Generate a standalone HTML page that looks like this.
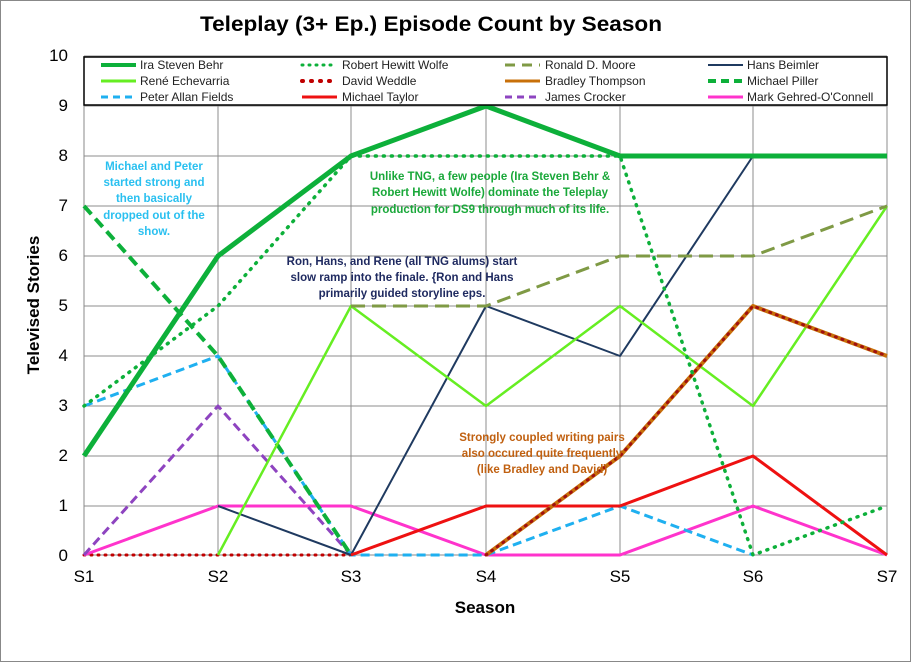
<!DOCTYPE html>
<html><head><meta charset="utf-8"><style>
html,body{margin:0;padding:0;background:#fff}
svg{display:block;font-family:"Liberation Sans",sans-serif}
</style></head><body>
<svg width="911" height="662" viewBox="0 0 911 662" xmlns="http://www.w3.org/2000/svg">
<rect x="0.5" y="0.5" width="910" height="661" fill="#fff" stroke="#888"/>
<text x="431" y="31" font-size="21" font-weight="bold" text-anchor="middle" textLength="462" lengthAdjust="spacingAndGlyphs">Teleplay (3+ Ep.) Episode Count by Season</text>
<g stroke="#8c8c8c" stroke-width="1">
<line x1="84" y1="56" x2="887" y2="56"/><line x1="84" y1="106" x2="887" y2="106"/><line x1="84" y1="156" x2="887" y2="156"/><line x1="84" y1="206" x2="887" y2="206"/><line x1="84" y1="256" x2="887" y2="256"/><line x1="84" y1="306" x2="887" y2="306"/><line x1="84" y1="356" x2="887" y2="356"/><line x1="84" y1="406" x2="887" y2="406"/><line x1="84" y1="456" x2="887" y2="456"/><line x1="84" y1="506" x2="887" y2="506"/>
<line x1="218" y1="56" x2="218" y2="555"/><line x1="351" y1="56" x2="351" y2="555"/><line x1="486" y1="56" x2="486" y2="555"/><line x1="620" y1="56" x2="620" y2="555"/><line x1="753" y1="56" x2="753" y2="555"/><line x1="887" y1="56" x2="887" y2="555"/>
</g>
<line x1="84" y1="56" x2="84" y2="555" stroke="#888"/>
<line x1="84" y1="555" x2="887" y2="555" stroke="#888"/>
<g font-size="17" text-anchor="end">
<text x="68" y="561">0</text><text x="68" y="511">1</text><text x="68" y="461">2</text><text x="68" y="411">3</text><text x="68" y="361">4</text><text x="68" y="311">5</text><text x="68" y="261">6</text><text x="68" y="211">7</text><text x="68" y="161">8</text><text x="68" y="111">9</text><text x="68" y="61">10</text>
</g>
<g font-size="17" text-anchor="middle">
<text x="84" y="582">S1</text><text x="218" y="582">S2</text><text x="351" y="582">S3</text><text x="486" y="582">S4</text><text x="620" y="582">S5</text><text x="753" y="582">S6</text><text x="887" y="582">S7</text>
</g>
<text x="485" y="613" font-size="17" font-weight="bold" text-anchor="middle">Season</text>
<text transform="translate(39,305) rotate(-90)" font-size="17" font-weight="bold" text-anchor="middle">Televised Stories</text>
<g fill="none" stroke-linejoin="round">
<polyline points="84,555 218,555 351,555" stroke="#c00000" stroke-width="3" stroke-dasharray="1,6" stroke-linecap="round"/>
<polyline points="84,555 218,506 351,506 486,555 620,555 753,506 887,555" stroke="#ff33cc" stroke-width="3"/>
<polyline points="84,555 218,406 351,555" stroke="#8e44c0" stroke-width="3" stroke-dasharray="9,5"/>
<polyline points="84,406 218,356 351,555 486,555 620,506 753,555" stroke="#1fb0f0" stroke-width="3" stroke-dasharray="9,5"/>
<polyline points="84,206 218,356 351,555" stroke="#0db03a" stroke-width="4" stroke-dasharray="11,6"/>
<polyline points="218,506 351,555 486,306 620,356 753,156 887,156" stroke="#1f3a60" stroke-width="2"/>
<polyline points="218,555 351,306 486,406 620,306 753,406 887,206" stroke="#66ee22" stroke-width="2.5"/>
<polyline points="351,306 486,306 620,256 753,256 887,206" stroke="#7f9a45" stroke-width="3" stroke-dasharray="14,7"/>
<polyline points="351,555 486,506 620,506 753,456 887,555" stroke="#ee1111" stroke-width="3"/>
<polyline points="486,555 620,456 753,306 887,356" stroke="#c8700a" stroke-width="4"/>
<polyline points="486,555 620,456 753,306 887,356" stroke="#a01010" stroke-width="3" stroke-dasharray="1,6" stroke-linecap="round"/>
<polyline points="84,406 218,306 351,156 486,156 620,156 753,555 887,506" stroke="#0db03a" stroke-width="3.5" stroke-dasharray="1,7" stroke-linecap="round"/>
<polyline points="84,456 218,256 351,156 486,106 620,156 753,156 887,156" stroke="#0db03a" stroke-width="5"/>
</g>
<rect x="84" y="57" width="803" height="48" fill="#fff" stroke="#000" stroke-width="1.5"/>
<g font-size="12" fill="#222">
<line x1="101" y1="65" x2="136" y2="65" stroke="#0db03a" stroke-width="4"/><text x="140" y="69">Ira Steven Behr</text>
<line x1="302" y1="65" x2="337" y2="65" stroke="#0db03a" stroke-width="3" stroke-dasharray="1,6" stroke-linecap="round"/><text x="342" y="69">Robert Hewitt Wolfe</text>
<line x1="505" y1="65" x2="540" y2="65" stroke="#7f9a45" stroke-width="3" stroke-dasharray="10,7"/><text x="545" y="69">Ronald D. Moore</text>
<line x1="708" y1="65" x2="743" y2="65" stroke="#1f3a60" stroke-width="2"/><text x="747" y="69">Hans Beimler</text>
<line x1="101" y1="81" x2="136" y2="81" stroke="#66ee22" stroke-width="3"/><text x="140" y="85">René Echevarria</text>
<line x1="302" y1="81" x2="337" y2="81" stroke="#c00000" stroke-width="4" stroke-dasharray="1,8" stroke-linecap="round"/><text x="342" y="85">David Weddle</text>
<line x1="505" y1="81" x2="540" y2="81" stroke="#c8700a" stroke-width="3"/><text x="545" y="85">Bradley Thompson</text>
<line x1="708" y1="81" x2="743" y2="81" stroke="#0db03a" stroke-width="4" stroke-dasharray="8,5"/><text x="747" y="85">Michael Piller</text>
<line x1="101" y1="97" x2="136" y2="97" stroke="#1fb0f0" stroke-width="3" stroke-dasharray="7,5"/><text x="140" y="101">Peter Allan Fields</text>
<line x1="302" y1="97" x2="337" y2="97" stroke="#ee1111" stroke-width="3"/><text x="342" y="101">Michael Taylor</text>
<line x1="505" y1="97" x2="540" y2="97" stroke="#8e44c0" stroke-width="3" stroke-dasharray="7,5"/><text x="545" y="101">James Crocker</text>
<line x1="708" y1="97" x2="743" y2="97" stroke="#ff33cc" stroke-width="3"/><text x="747" y="101">Mark Gehred-O'Connell</text>
</g>
<g font-size="11.5" font-weight="bold" text-anchor="middle">
<g fill="#2ac0f0"><text x="154" y="170">Michael and Peter</text><text x="154" y="186">started strong and</text><text x="154" y="202">then basically</text><text x="154" y="219">dropped out of the</text><text x="154" y="235">show.</text></g>
<g fill="#1aa83a"><text x="490" y="180">Unlike TNG, a few people (Ira Steven Behr &amp;</text><text x="490" y="196">Robert Hewitt Wolfe) dominate the Teleplay</text><text x="490" y="213">production for DS9 through much of its life.</text></g>
<g fill="#1f2a60"><text x="402" y="265">Ron, Hans, and Rene (all TNG alums) start</text><text x="402" y="281">slow ramp into the finale.  {Ron and Hans</text><text x="402" y="297">primarily guided storyline eps.</text></g>
<g fill="#c06010"><text x="542" y="441">Strongly coupled writing pairs</text><text x="542" y="457">also occured quite frequently</text><text x="542" y="473">(like Bradley and David)</text></g>
</g>
</svg>
</body></html>
